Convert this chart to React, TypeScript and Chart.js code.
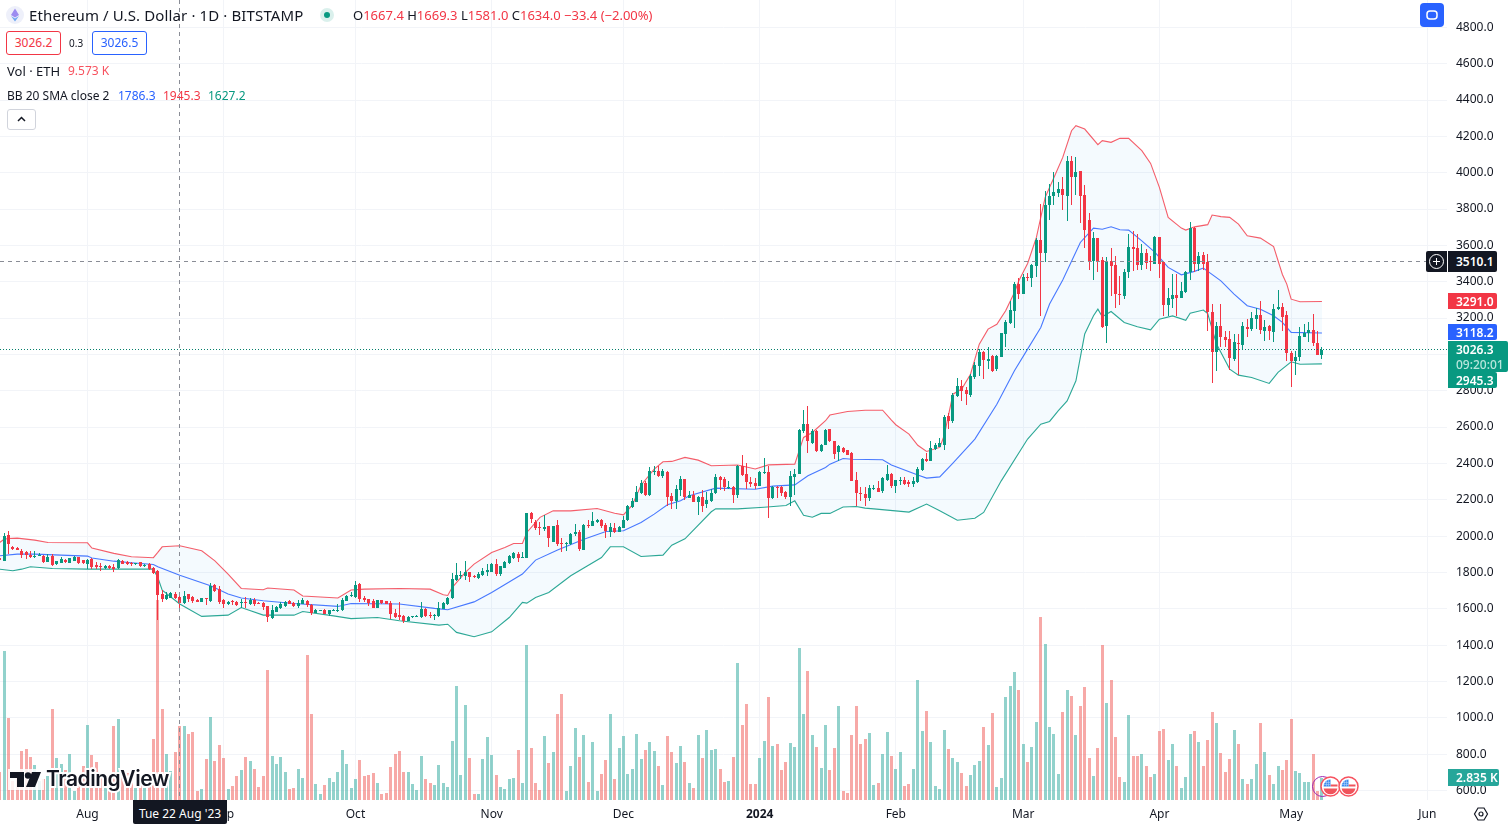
import React, { useEffect, useRef } from "react";
import { Chart, registerables } from "chart.js";

Chart.register(...registerables);

const FONT = '"Noto Sans", sans-serif';
const RED = "#F23645";
const GREEN = "#089981";
const BLUE = "#2962FF";

// day numbers are counted from 1 Aug 2023
const firstDay = -20;
const monthDays = [0, 31, 61, 92, 122, 153, 184, 213, 244, 274, 305];
const monthNames = ["Aug", "Sep", "Oct", "Nov", "Dec", "2024", "Feb", "Mar", "Apr", "May", "Jun"];
const priceTicks = [600, 800, 1000, 1200, 1400, 1600, 1800, 2000, 2200, 2400, 2600, 2800, 3000, 3200, 3400, 3600, 3800, 4000, 4200, 4400, 4600, 4800];

const opens = [
  1880,1864,2007,1941,1934,1919,1912,1897,1890,1890,
  1892,1860,1890,1844,1853,1868,1853,1864,1883,1868,
  1846,1875,1842,1835,1824,1837,1828,1822,1861,1857,
  1851,1846,1855,1839,1844,1826,1807,1684,1655,1660,
  1684,1667.4,1634,1679,1664,1651,1638,1659,1642,1729,
  1710,1648,1624,1642,1638,1633,1638,1624,1651,1633,
  1633,1615,1547,1585,1602,1618,1644,1631,1613,1629,
  1644,1622,1578,1592,1594,1569,1589,1593,1593,1644,
  1670,1664,1739,1662,1653,1644,1605,1646,1642,1633,
  1576,1567,1561,1534,1552,1556,1552,1600,1567,1560,
  1561,1600,1625,1657,1759,1785,1781,1803,1781,1769,
  1787,1803,1805,1849,1790,1827,1851,1879,1904,1882,
  1882,2125,2080,2051,2038,2055,1970,2060,1963,1959,
  1956,2011,2024,1925,2062,2058,2080,2086,2062,2022,
  2046,2025,2047,2086,2161,2190,2235,2293,2225,2353,
  2361,2330,2354,2220,2194,2253,2315,2212,2227,2190,
  2216,2175,2192,2235,2326,2313,2264,2271,2227,2387,
  2341,2299,2293,2275,2348,2354,2207,2271,2271,2240,
  2216,2326,2341,2576,2616,2515,2580,2466,2501,2589,
  2521,2464,2484,2473,2456,2310,2238,2234,2209,2260,
  2266,2249,2308,2344,2277,2304,2310,2295,2286,2295,
  2365,2423,2414,2478,2493,2502,2660,2635,2772,2825,
  2805,2777,2876,2937,3014,2966,2990,2918,2987,3111,
  3172,3240,3387,3335,3425,3418,3484,3631,3556,3820,
  3873,3886,3912,3873,4066,3978,4007,3879,3741,3515,
  3640,3521,3154,3515,3493,3333,3322,3454,3592,3585,
  3493,3559,3515,3500,3647,3506,3273,3306,3328,3311,
  3344,3451,3698,3500,3548,3506,3236,3011,3158,3097,
  3085,2976,3064,3053,3152,3139,3196,3218,3130,3158,
  3124,3252,3260,3218,3009,2963,2983,3097,3115,3133,3064,2998,
];
const highs = [
  1885,2015,2029,1947,1938,1928,1919,1919,1916,1906,
  1895,1901,1901,1864,1886,1875,1882,1890,1886,1871,
  1873,1879,1855,1850,1841,1841,1846,1873,1868,1864,
  1855,1851,1859,1846,1853,1831,1813,1703,1694,1692,
  1692,1669.3,1699,1684,1668,1655,1660,1662,1741,1734,
  1723,1655,1644,1646,1642,1653,1664,1659,1660,1635,
  1637,1618,1620,1618,1637,1644,1648,1638,1651,1662,
  1650,1627,1600,1596,1598,1596,1598,1626,1662,1675,
  1693,1752,1743,1670,1655,1653,1651,1651,1644,1644,
  1598,1638,1567,1558,1560,1563,1638,1604,1580,1571,
  1635,1635,1665,1796,1851,1809,1864,1805,1787,1800,
  1827,1846,1853,1873,1836,1864,1897,1915,1910,1910,
  2128,2130,2088,2075,2117,2057,2058,2090,1992,1969,
  2018,2066,2033,2065,2088,2134,2092,2095,2070,2070,
  2070,2055,2112,2170,2212,2275,2308,2304,2383,2387,
  2387,2372,2356,2235,2282,2332,2315,2249,2249,2222,
  2253,2245,2258,2341,2332,2323,2304,2277,2392,2447,
  2400,2323,2317,2357,2432,2387,2274,2277,2277,2249,
  2359,2368,2590,2693,2717,2589,2585,2505,2590,2592,
  2523,2502,2490,2476,2464,2350,2268,2268,2282,2282,
  2304,2323,2392,2348,2310,2323,2323,2308,2326,2378,
  2429,2460,2524,2510,2539,2666,2675,2785,2869,2858,
  2822,2892,2960,3029,3016,3038,2994,2998,3117,3188,
  3296,3396,3420,3445,3450,3495,3640,3827,3901,3937,
  4005,3950,3974,4093,4093,4084,4011,3934,3778,3675,
  3640,3534,3534,3585,3542,3432,3469,3662,3680,3662,
  3610,3579,3542,3653,3647,3506,3364,3441,3445,3397,
  3460,3730,3702,3566,3566,3552,3277,3176,3277,3130,
  3126,3111,3111,3176,3194,3234,3255,3295,3190,3163,
  3280,3356,3284,3240,3020,3020,3152,3170,3176,3225,3130,3040,
];
const lows = [
  1865,1862,1900,1923,1921,1877,1873,1881,1879,1888,
  1853,1857,1833,1842,1851,1853,1851,1862,1846,1849,
  1818,1820,1818,1809,1821,1820,1800,1818,1844,1842,
  1837,1842,1831,1831,1816,1791,1539,1640,1651,1657,
  1653,1581,1626,1635,1633,1636,1636,1620,1639,1694,
  1626,1602,1622,1620,1613,1604,1604,1620,1618,1627,
  1593,1528,1545,1583,1598,1609,1626,1609,1604,1626,
  1611,1567,1576,1590,1570,1561,1586,1585,1589,1642,
  1666,1660,1638,1638,1616,1604,1603,1629,1627,1543,
  1549,1538,1519,1532,1550,1554,1550,1552,1547,1540,
  1556,1598,1622,1653,1754,1763,1759,1745,1772,1765,
  1783,1781,1803,1781,1778,1825,1846,1873,1855,1878,
  1880,2071,2035,2007,2029,1938,1968,1947,1910,1919,
  1952,2002,1919,1923,2042,2055,2070,2042,1992,1996,
  2016,2023,2044,2084,2157,2185,2231,2222,2222,2337,
  2326,2322,2167,2148,2148,2222,2200,2209,2185,2117,
  2135,2157,2185,2231,2253,2246,2258,2180,2212,2332,
  2258,2268,2258,2273,2341,2102,2205,2207,2218,2203,
  2167,2225,2339,2565,2455,2506,2462,2462,2499,2519,
  2427,2414,2460,2445,2301,2167,2194,2167,2194,2253,
  2242,2235,2304,2264,2238,2279,2282,2268,2268,2292,
  2356,2410,2412,2473,2488,2475,2589,2620,2768,2745,
  2723,2766,2864,2882,2867,2919,2905,2909,2983,3038,
  3167,3143,3305,3330,3405,3369,3425,3209,3506,3741,
  3824,3867,3796,3735,3824,3879,3721,3585,3465,3410,
  3454,3145,3060,3322,3253,3273,3304,3423,3460,3464,
  3464,3469,3460,3497,3419,3212,3212,3254,3212,3308,
  3340,3411,3451,3460,3465,3130,2845,2910,3038,3038,
  2913,2965,2888,3023,3093,3126,3139,3111,3075,3078,
  3069,3243,3130,2961,2818,2888,2961,3093,3067,3047,2996,2977,
];
const closes = [
  1868,2002,1956,1927,1923,1897,1894,1883,1892,1894,
  1857,1886,1842,1861,1873,1855,1877,1883,1851,1851,
  1870,1828,1831,1828,1837,1822,1820,1870,1848,1848,
  1846,1850,1833,1842,1818,1798,1677,1655,1677,1686,
  1659,1634,1673,1655,1642,1638,1657,1653,1727,1699,
  1635,1626,1640,1637,1622,1638,1635,1651,1626,1629,
  1611,1552,1594,1611,1626,1635,1629,1613,1633,1648,
  1620,1576,1596,1594,1572,1591,1594,1596,1650,1670,
  1677,1732,1653,1646,1631,1604,1648,1631,1629,1571,
  1556,1554,1534,1554,1558,1560,1600,1558,1558,1567,
  1604,1631,1662,1763,1787,1788,1803,1775,1775,1794,
  1809,1816,1849,1790,1833,1860,1892,1906,1879,1886,
  2125,2093,2044,2044,2051,1989,2055,1959,1959,1963,
  2014,2025,1928,2062,2058,2084,2086,2056,2027,2051,
  2022,2051,2088,2165,2194,2244,2293,2225,2359,2359,
  2330,2356,2216,2194,2258,2314,2216,2227,2190,2216,
  2167,2198,2236,2326,2308,2271,2271,2227,2387,2337,
  2295,2288,2275,2354,2352,2207,2271,2268,2235,2216,
  2330,2341,2585,2616,2521,2580,2466,2500,2583,2525,
  2451,2495,2464,2449,2304,2235,2230,2212,2266,2266,
  2245,2317,2344,2273,2306,2310,2286,2286,2301,2368,
  2423,2414,2484,2502,2511,2656,2635,2778,2825,2800,
  2781,2882,2943,3014,2968,2975,2910,2992,3115,3179,
  3244,3387,3335,3425,3418,3491,3631,3556,3824,3873,
  3895,3912,3879,4066,3978,4005,3873,3686,3515,3640,
  3515,3149,3515,3489,3335,3328,3454,3592,3581,3493,
  3559,3502,3507,3647,3500,3273,3311,3328,3313,3350,
  3454,3693,3500,3542,3497,3236,3011,3158,3097,3081,
  2980,3066,3056,3158,3141,3202,3218,3135,3152,3126,
  3249,3260,3207,3005,2965,2987,3102,3119,3133,3060,2998,3026,
];
const volumes = [
  3660,19270,10650,2460,2800,6340,6590,5560,4530,2460,
  2715,3100,11770,5430,4655,3880,5950,1165,2070,4400,
  9700,5820,4915,3020,1725,1725,9570,10470,4140,3450,
  2590,1595,1940,1595,2800,7890,25880,11770,5950,3750,
  6205,9573,9570,8535,8790,1165,1420,5300,10730,5040,
  7110,5430,1420,1810,3100,3880,5560,5040,4010,1680,
  3100,16810,5690,4655,5560,3620,1420,1550,4010,2845,
  18750,11120,2070,775,1940,2845,2330,3620,6465,4655,
  1550,2715,5170,3100,3230,3490,2200,775,905,4270,
  5950,6340,3620,3620,2070,1290,5690,2715,2200,1940,
  4530,2200,1680,7630,14740,3230,12280,5430,775,775,
  5300,8145,5820,3230,1680,1420,2715,2845,6465,2200,
  20040,6725,2200,1290,8275,4785,6205,11120,13700,1165,
  4400,9310,5560,8400,2330,7500,1165,3360,5170,11120,
  2715,6725,8275,3360,4010,8535,5300,6465,7500,6335,
  4400,1940,8275,6205,4785,6980,4915,2200,1550,8400,
  5430,9050,6465,6595,4010,2330,2455,5560,17710,9700,
  12410,2070,2070,5430,7630,13320,6980,7240,3880,4915,
  7370,6850,19650,11120,16680,8400,6850,4140,9700,3880,
  6725,12155,1165,905,8400,12155,7240,7890,8660,1940,
  2200,5950,8790,5690,4010,6205,1810,2070,4010,15520,
  8920,11510,7500,1810,1420,9050,6595,5430,4915,3490,
  1810,3230,4525,5040,9440,7110,11250,1680,2845,13320,
  14740,16550,14220,7240,4915,6850,10085,23660,20170,9440,
  8535,3360,11380,14220,13450,8400,12155,14610,5430,3100,
  6725,20040,12540,15520,8145,2975,2330,10990,5690,5690,
  5950,4400,2975,3360,8920,9180,5170,7240,4400,1550,
  2975,8535,8920,7500,4400,7760,11380,9955,6080,3620,
  5300,9050,7240,2715,2070,2715,4655,9955,6205,3230,
  2070,4400,3880,5170,10470,3750,3490,2330,2330,5950,1200,2835,
];

const upperDays = [-20,-19,-18,-16,-12,-9,0,1,6,10,15,16,17,21,26,29,32,35,40,41,47,49,57,60,63,71,78,81,82,83,86,88,92,95,97,99,100,103,106,110,116,120,122,124,126,129,131,133,136,139,142,148,152,155,161,162,163,165,168,169,173,177,181,183,184,187,189,191,194,195,197,199,201,203,205,207,209,211,212,214,216,218,220,222,224,225,227,230,231,233,235,237,240,242,244,246,249,250,252,255,256,258,260,262,264,267,270,272,273,274,276,281];
const upperValues = [1965,1983,1987,1989,1978,1965,1963,1934,1905,1886,1881,1910,1941,1947,1919,1864,1791,1712,1705,1714,1703,1670,1659,1703,1708,1712,1708,1677,1673,1717,1800,1846,1910,1937,1959,1959,2020,2103,2139,2139,2152,2126,2117,2170,2280,2369,2409,2411,2433,2418,2387,2391,2369,2392,2396,2470,2543,2570,2635,2666,2686,2693,2693,2638,2613,2561,2500,2466,2488,2552,2781,2809,2891,3056,3139,3166,3240,3341,3405,3500,3644,3864,3974,4084,4231,4259,4240,4154,4176,4167,4189,4189,4121,4051,3919,3754,3695,3684,3702,3714,3767,3758,3754,3717,3653,3640,3593,3440,3387,3304,3290,3291];
const basisDays = [-20,-16,-12,0,1,6,10,15,16,21,28,32,35,40,47,57,60,71,79,82,88,92,99,102,107,113,118,122,126,129,132,135,137,143,152,156,161,164,168,169,172,174,181,183,189,191,194,197,202,207,211,214,217,219,222,226,229,231,233,235,237,240,243,246,249,252,254,258,261,264,267,270,272,274,281];
const basisValues = [1892,1901,1901,1890,1879,1862,1853,1844,1831,1785,1727,1681,1659,1644,1629,1613,1629,1626,1602,1595,1638,1690,1791,1868,1924,1983,2025,2029,2075,2121,2172,2194,2222,2264,2258,2275,2282,2332,2378,2396,2427,2423,2420,2391,2336,2319,2326,2402,2534,2726,2910,3029,3148,3277,3409,3616,3695,3689,3702,3686,3684,3625,3561,3479,3438,3457,3475,3405,3332,3268,3249,3213,3176,3121,3118];
const lowerDays = [-20,-17,-15,-13,-8,0,3,15,16,17,21,26,32,35,40,47,49,56,60,66,71,80,82,84,88,92,96,99,100,102,105,110,117,119,122,126,131,133,136,142,143,148,154,159,161,163,165,167,169,172,175,177,179,187,191,194,198,202,204,208,214,217,219,221,223,225,227,229,230,231,233,236,239,242,244,247,250,251,254,255,257,260,262,265,269,271,274,276,281];
const lowerValues = [1818,1809,1818,1831,1822,1818,1818,1818,1772,1703,1626,1558,1565,1607,1565,1565,1585,1561,1546,1552,1534,1510,1515,1470,1446,1473,1552,1635,1631,1662,1690,1782,1882,1941,1941,1888,1895,1950,1985,2134,2150,2150,2159,2168,2194,2115,2104,2125,2125,2160,2163,2154,2150,2132,2176,2140,2087,2098,2130,2304,2534,2616,2631,2690,2744,2855,3112,3213,3249,3207,3236,3176,3152,3135,3194,3212,3188,3227,3244,3225,3057,2919,2886,2873,2840,2901,2959,2946,2948];

const crosshairDay = 21;
const crosshairPrice = 3510.1;
const lastPrice = 3026.3;

const toLine = (days: number[], vals: number[]) => days.map((x, i) => ({ x, y: vals[i] }));
const dayOf = (i: number) => firstDay + i;
const isUp = (i: number) => closes[i] >= opens[i];

const snapPlugin = {
  id: "snapBars",
  afterDatasetsUpdate(chart: any) {
    chart.data.datasets.forEach((ds: any, di: number) => {
      if (ds.type !== "bar") return;
      const meta = chart.getDatasetMeta(di);
      meta.data.forEach((el: any) => {
        el.x = Math.floor(el.x) + 0.5;
        const top = Math.round(Math.min(el.y, el.base));
        let bottom = Math.round(Math.max(el.y, el.base));
        if (bottom - top < 1) bottom = top + 1;
        el.y = top;
        el.base = bottom;
        el.height = bottom - top;
      });
    });
  },
};

const overlayPlugin = {
  id: "crosshair",
  afterDatasetsDraw(chart: any) {
    const { ctx, chartArea, scales } = chart;
    ctx.save();
    ctx.lineWidth = 1;
    const yLast = Math.floor(scales.y.getPixelForValue(lastPrice)) + 0.5;
    ctx.strokeStyle = "#067F6B";
    ctx.setLineDash([1, 2]);
    ctx.beginPath();
    ctx.moveTo(0, yLast);
    ctx.lineTo(chartArea.right, yLast);
    ctx.stroke();
    ctx.strokeStyle = "#8A8D96";
    ctx.setLineDash([4, 4]);
    const xCross = Math.floor(scales.x.getPixelForValue(crosshairDay)) + 0.5;
    ctx.beginPath();
    ctx.moveTo(xCross, 0);
    ctx.lineTo(xCross, chartArea.bottom);
    ctx.stroke();
    const yCross = Math.floor(scales.y.getPixelForValue(crosshairPrice)) + 0.5;
    ctx.beginPath();
    ctx.moveTo(0, yCross);
    ctx.lineTo(chartArea.right - 21, yCross);
    ctx.stroke();
    ctx.restore();
  },
};

const abs = (l: number, t: number, w: number, h: number, bg: string): React.CSSProperties => ({
  position: "absolute",
  left: l,
  top: t,
  width: w,
  height: h,
  background: bg,
  color: "#fff",
  fontFamily: FONT,
  fontSize: 12,
  fontWeight: 600,
  lineHeight: h + 1 + "px",
  paddingLeft: 8,
  boxSizing: "border-box",
  borderRadius: "0 2px 2px 0",
});

const text = (l: number, t: number, color: string, size = 12): React.CSSProperties => ({
  position: "absolute",
  left: l,
  top: t,
  color,
  fontFamily: FONT,
  fontSize: size,
  lineHeight: "18px",
  whiteSpace: "nowrap",
});

const Flag = ({ left }: { left: number }) => (
  <svg style={{ position: "absolute", left, top: 776 }} width={21} height={21} viewBox="0 0 21 21">
    <circle cx={10.5} cy={10.5} r={9.5} fill="#fff" stroke="#F7525F" strokeWidth={1.5} />
    <path d="M3.6 12.5 A7 7 0 0 0 17.4 12.5 Z" fill="#F0545C" />
    <rect x={10.5} y={8.5} width={7} height={2} fill="#F0545C" />
    <path d="M10.5 3.5 A7 7 0 0 0 3.6 10.5 H10.5 Z" fill="#3C8CF0" />
    <path d="M5 6.5 H10.5 M4 8.5 H10.5 M6.5 4 V10.5 M8.5 3.5 V10.5" stroke="#BBD8FA" strokeWidth={0.5} />
  </svg>
);

export default function App() {
  const ref = useRef<HTMLCanvasElement | null>(null);

  useEffect(() => {
    document.body.style.margin = "0";
    const n = opens.length;
    const indices = Array.from({ length: n }, (_, i) => i);
    const chart = new Chart(ref.current as HTMLCanvasElement, {
      type: "bar",
      data: {
        datasets: [
          {
            type: "bar",
            label: "Volume",
            yAxisID: "yVol",
            order: 5,
            grouped: false,
            maxBarThickness: 3,
            inflateAmount: 0,
            borderWidth: 0,
            data: indices.map((i) => ({ x: dayOf(i), y: volumes[i] })),
            backgroundColor: indices.map((i) => (isUp(i) ? "rgba(38,166,154,0.5)" : "rgba(239,83,80,0.5)")),
          },
          {
            type: "line",
            label: "Basis",
            yAxisID: "y",
            order: 3,
            data: toLine(basisDays, basisValues),
            borderColor: "rgba(41,98,255,0.85)",
            borderWidth: 1.1,
            pointRadius: 0,
            fill: false,
          },
          {
            type: "line",
            label: "Upper",
            yAxisID: "y",
            order: 4,
            data: toLine(upperDays, upperValues),
            borderColor: "rgba(242,54,69,0.8)",
            borderWidth: 1.1,
            pointRadius: 0,
            backgroundColor: "rgba(33,150,243,0.05)",
            fill: { target: 3 },
          },
          {
            type: "line",
            label: "Lower",
            yAxisID: "y",
            order: 4,
            data: toLine(lowerDays, lowerValues),
            borderColor: "rgba(8,153,129,0.85)",
            borderWidth: 1.1,
            pointRadius: 0,
            fill: false,
          },
          {
            type: "bar",
            label: "Wicks",
            yAxisID: "y",
            order: 2,
            grouped: false,
            maxBarThickness: 1,
            inflateAmount: 0,
            borderWidth: 0,
            data: indices.map((i) => ({ x: dayOf(i), y: [lows[i], highs[i]] })),
            backgroundColor: indices.map((i) => (isUp(i) ? GREEN : RED)),
          },
          {
            type: "bar",
            label: "Bodies",
            yAxisID: "y",
            order: 1,
            grouped: false,
            maxBarThickness: 3,
            inflateAmount: 0,
            borderWidth: 0,
            data: indices.map((i) => ({ x: dayOf(i), y: [opens[i], closes[i]] })),
            backgroundColor: indices.map((i) => (isUp(i) ? GREEN : RED)),
          },
        ] as any,
      },
      options: {
        animation: false,
        responsive: false,
        layout: { padding: 0 },
        plugins: { legend: { display: false }, tooltip: { enabled: false } },
        events: [],
        scales: {
          x: {
            type: "linear",
            offset: false,
            min: -19.92,
            max: 309.47,
            grid: { color: "#F2F4F8", drawTicks: false, offset: false },
            border: { display: false },
            afterBuildTicks: (s: any) => {
              s.ticks = monthDays.map((value) => ({ value }));
            },
            afterFit: (s: any) => {
              s.height = 28;
              s.paddingLeft = 0;
              s.paddingRight = 0;
            },
            ticks: {
              autoSkip: false,
              maxRotation: 0,
              padding: 7,
              color: "#131722",
              font: (c: any) => ({
                family: FONT,
                size: 12,
                weight: c.tick && c.tick.value === 153 ? "bold" : "normal",
              }),
              callback: (v: any) => monthNames[monthDays.indexOf(v)],
            },
          },
          y: {
            position: "right",
            min: 547.6,
            max: 4950.4,
            grid: { color: "#F2F4F8", drawTicks: false },
            border: { display: false },
            afterBuildTicks: (s: any) => {
              s.ticks = priceTicks.map((value) => ({ value }));
            },
            afterFit: (s: any) => {
              s.width = 61;
              s.paddingTop = 0;
              s.paddingBottom = 0;
            },
            ticks: {
              autoSkip: false,
              padding: 9,
              color: "#131722",
              font: { family: FONT, size: 12 },
              callback: (v: any) => Number(v).toFixed(1),
            },
          },
          yVol: { display: false, min: 0, max: 103520 },
        },
      } as any,
      plugins: [snapPlugin, overlayPlugin] as any,
    });
    return () => chart.destroy();
  }, []);

  return (
    <div style={{ position: "relative", width: 1508, height: 828, overflow: "hidden", background: "#fff" }}>
      <canvas ref={ref} width={1508} height={828} style={{ display: "block" }} />

      {/* header */}
      <svg style={{ position: "absolute", left: 6, top: 6 }} width={18} height={18} viewBox="0 0 18 18">
        <circle cx={9} cy={9} r={9} fill="#EEF0FA" />
        <path d="M9 2.5 L13 9 L9 11.5 L5 9 Z" fill="#9C8CF0" />
        <path d="M9 12.5 L13 10 L9 15.5 L5 10 Z" fill="#6FA8F0" />
      </svg>
      <div style={{ ...text(29, 6, "#131722", 15), letterSpacing: 0.12 }}>Ethereum / U.S. Dollar · 1D · BITSTAMP</div>
      <div style={{ position: "absolute", left: 320, top: 8, width: 14, height: 14, borderRadius: 7, background: "rgba(8,153,129,0.15)" }} />
      <div style={{ position: "absolute", left: 324, top: 12, width: 6, height: 6, borderRadius: 3, background: GREEN }} />
      <div style={text(353, 6, RED, 13)}>
        <span style={{ color: "#131722" }}>O</span>1667.4 <span style={{ color: "#131722" }}>H</span>1669.3{" "}
        <span style={{ color: "#131722" }}>L</span>1581.0 <span style={{ color: "#131722" }}>C</span>1634.0 −33.4 (−2.00%)
      </div>

      <div style={{ ...text(6, 31, RED), width: 55, height: 24, lineHeight: "22px", textAlign: "center", border: `1px solid ${RED}`, borderRadius: 3, boxSizing: "border-box", background: "#fff" }}>3026.2</div>
      <div style={text(69, 34, "#131722", 10)}>0.3</div>
      <div style={{ ...text(92, 31, BLUE), width: 55, height: 24, lineHeight: "22px", textAlign: "center", border: `1px solid ${BLUE}`, borderRadius: 3, boxSizing: "border-box", background: "#fff" }}>3026.5</div>

      <div style={text(7, 62, "#131722", 13)}>Vol · ETH</div>
      <div style={text(68, 62, "#F7525F")}>9.573 K</div>

      <div style={text(7, 87, "#131722")}>BB 20 SMA close 2</div>
      <div style={text(118, 87, BLUE)}>1786.3</div>
      <div style={text(163, 87, RED)}>1945.3</div>
      <div style={text(208, 87, GREEN)}>1627.2</div>

      <div style={{ position: "absolute", left: 7, top: 109, width: 29, height: 21, border: "1px solid #D1D4DC", borderRadius: 3, boxSizing: "border-box", background: "#fff" }}>
        <svg width={27} height={19} viewBox="0 0 27 19">
          <path d="M10 11 L13.5 7.5 L17 11" fill="none" stroke="#131722" strokeWidth={1.5} />
        </svg>
      </div>

      {/* top right button */}
      <div style={{ position: "absolute", left: 1420, top: 3, width: 24, height: 24, borderRadius: 4, background: BLUE }}>
        <svg width={24} height={24} viewBox="0 0 24 24">
          <rect x={7} y={8} width={10} height={8} rx={3} fill="none" stroke="#fff" strokeWidth={1.5} />
        </svg>
      </div>

      {/* price tags */}
      <div style={{ ...abs(1426, 251, 21, 21, "#131722"), borderRadius: "2px 0 0 2px", paddingLeft: 0 }}>
        <svg width={21} height={21} viewBox="0 0 21 21" style={{ display: "block" }}>
          <circle cx={10.5} cy={10.5} r={7} fill="none" stroke="#fff" strokeWidth={1} />
          <path d="M10.5 7 V14 M7 10.5 H14" stroke="#fff" strokeWidth={1} />
        </svg>
      </div>
      <div style={abs(1448, 251, 49, 21, "#131722")}>3510.1</div>
      <div style={abs(1448, 293, 49, 16, RED)}>3291.0</div>
      <div style={abs(1448, 324, 49, 16, BLUE)}>3118.2</div>
      <div style={abs(1448, 341, 60, 31, GREEN)} />
      <div style={{ ...abs(1448, 341, 60, 16, "transparent") }}>3026.3</div>
      <div style={{ ...abs(1448, 356, 60, 16, "transparent"), color: "#B8E6DC", fontWeight: 500 }}>09:20:01</div>
      <div style={abs(1448, 372, 49, 16, GREEN)}>2945.3</div>
      <div style={abs(1448, 769, 51, 17, "#26A69A")}>2.835 K</div>

      {/* crosshair date */}
      <div style={{ position: "absolute", left: 133, top: 800, width: 94, height: 24, background: "#131722", color: "#fff", fontFamily: FONT, fontSize: 12, lineHeight: "28px", textAlign: "center", borderRadius: "0 0 2px 2px" }}>
        Tue 22 Aug '23
      </div>

      {/* settings gear */}
      <svg style={{ position: "absolute", left: 1473, top: 806 }} width={16} height={16} viewBox="0 0 16 16">
        <path d="M5 2 H11 L14.5 8 L11 14 H5 L1.5 8 Z" fill="none" stroke="#131722" strokeWidth={1.2} />
        <circle cx={8} cy={8} r={2} fill="none" stroke="#131722" strokeWidth={1.2} />
      </svg>

      {/* logo */}
      <div style={{ position: "absolute", left: 8, top: 769, width: 36, height: 21, background: "#fff", opacity: 0.85 }} />
      <svg style={{ position: "absolute", left: 10, top: 771 }} width={32} height={17} viewBox="0 0 32 17">
        <path d="M0 1 H14 V16 H7 V7 H0 Z M16 16 L22 1 H31 L25 16 Z" fill="#131722" />
        <circle cx={18} cy={4.5} r={3.2} fill="#131722" />
      </svg>
      <div
        style={{
          position: "absolute",
          left: 46,
          top: 765,
          fontFamily: '"Inter", sans-serif',
          fontWeight: 600,
          fontSize: 21,
          lineHeight: "28px",
          color: "#131722",
          letterSpacing: -0.45,
          WebkitTextStroke: "4px #fff",
          paintOrder: "stroke fill",
        }}
      >
        TradingView
      </div>

      {/* event markers */}
      <div style={{ position: "absolute", left: 1312, top: 776, width: 21, height: 21, borderRadius: 11, border: "1.5px solid #9C27B0", boxSizing: "border-box" }} />
      <Flag left={1320} />
      <Flag left={1338} />
    </div>
  );
}
